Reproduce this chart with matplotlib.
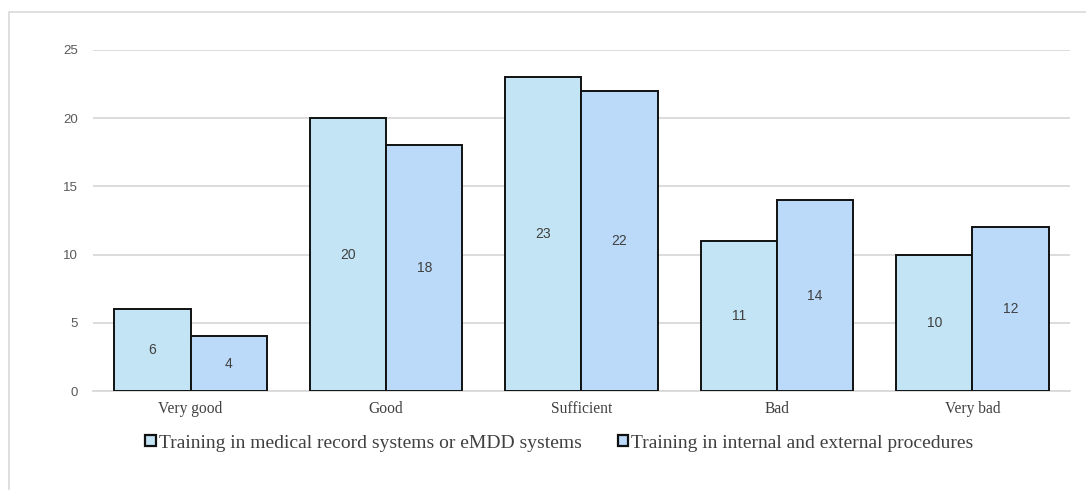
import matplotlib
matplotlib.use("Agg")
import matplotlib.pyplot as plt
from matplotlib.patches import Rectangle
import numpy as np

categories = ["Very good", "Good", "Sufficient", "Bad", "Very bad"]
series_names = [
    "Training in medical record systems or eMDD systems",
    "Training in internal and external procedures",
]
medical_records = [6, 20, 23, 11, 10]
procedures = [4, 18, 22, 14, 12]
y_ticks = [0, 5, 10, 15, 20, 25]

colors = ["#C3E4F4", "#BBDAFA"]
serif = ["Liberation Serif", "DejaVu Serif"]
sans = ["Liberation Sans", "DejaVu Sans"]

fig = plt.figure(figsize=(10.86, 4.9), dpi=100)
ax = fig.add_axes([0.0856, 0.202, 0.8997, 0.696])

# outer chart frame (left and top edges visible)
fig.patches.append(Rectangle((9 / 1086, -0.1), 1.2, 1 - 12 / 490 + 0.1,
                             transform=fig.transFigure, fill=False,
                             edgecolor="#D9D9D9", linewidth=1.2))

x = np.arange(len(categories))
w = 0.39
for i, (vals, col, name) in enumerate(zip([medical_records, procedures], colors, series_names)):
    pos = x + (i - 0.5) * w
    bars = ax.bar(pos, vals, width=w, color=col, edgecolor="#111111",
                  linewidth=1.4, label=name, zorder=3)
    for b, v in zip(bars, vals):
        ax.text(b.get_x() + b.get_width() / 2, v / 2, str(v), ha="center",
                va="center", fontsize=10, color="#404040", family=sans, zorder=4)

ax.set_xlim(-0.5, len(categories) - 0.5)
ax.set_ylim(0, 25)
ax.set_yticks(y_ticks)
ax.set_yticklabels([str(t) for t in y_ticks], family=sans, fontsize=9.5, color="#595959")
ax.set_xticks(x)
ax.set_xticklabels(categories, family=serif, fontsize=11.2, color="#404040")
ax.tick_params(axis="both", length=0)
ax.tick_params(axis="y", pad=11)
ax.tick_params(axis="x", pad=7)
ax.grid(axis="y", color="#D9D9D9", linewidth=1.3, zorder=0)
for s in ["top", "right", "left"]:
    ax.spines[s].set_visible(False)
ax.spines["bottom"].set_color("#D9D9D9")
ax.spines["bottom"].set_linewidth(1.3)

leg = fig.legend(loc="center", bbox_to_anchor=(0.515, 1 - 443 / 490), ncol=2,
                 frameon=False, prop={"family": serif, "size": 14},
                 handlelength=0.55, handleheight=0.55, handletextpad=0.15,
                 columnspacing=1.85, labelcolor="#404040")
for h in leg.legend_handles:
    h.set_linewidth(1.6)

fig.savefig("out.png", dpi=100, facecolor="white")
